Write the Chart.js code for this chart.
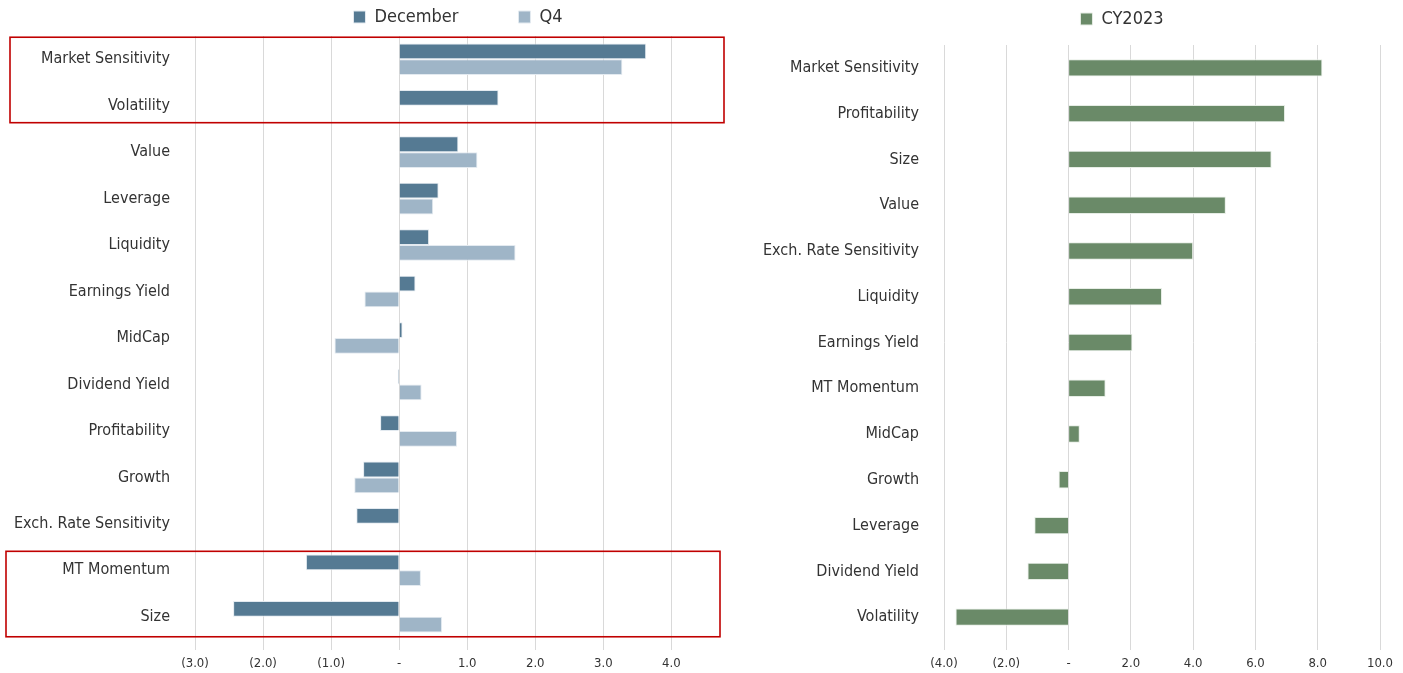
<!DOCTYPE html>
<html>
<head>
<meta charset="utf-8">
<script src="https://cdn.jsdelivr.net/npm/chart.js@4.4.1/dist/chart.umd.min.js"></script>
<style>
  html, body { margin: 0; padding: 0; background: #fff; }
  #leftBox { position: absolute; left: 0; top: 0; width: 730px; height: 673px; }
  #rightBox { position: absolute; left: 740px; top: 0; width: 663px; height: 673px; }
</style>
</head>
<body>
<div id="leftBox"><canvas id="monthChart"></canvas></div>
<div id="rightBox"><canvas id="yearChart"></canvas></div>
<script>
// ---- data: December vs Q4 factor returns ----
const monthFactors = ["Market Sensitivity", "Volatility", "Value", "Leverage", "Liquidity",
  "Earnings Yield", "MidCap", "Dividend Yield", "Profitability", "Growth",
  "Exch. Rate Sensitivity", "MT Momentum", "Size"];
const decemberValues = [3.63, 1.46, 0.87, 0.58, 0.44, 0.24, 0.05, -0.02, -0.28, -0.53, -0.63, -1.37, -2.44];
const q4Values = [3.28, 0.01, 1.15, 0.50, 1.71, -0.51, -0.95, 0.33, 0.85, -0.66, -0.01, 0.32, 0.63];
const monthTicks = [-3, -2, -1, 0, 1, 2, 3, 4];
const highlighted = [["Market Sensitivity", "Volatility"], ["MT Momentum", "Size"]];

// ---- data: calendar year 2023 ----
const yearFactors = ["Market Sensitivity", "Profitability", "Size", "Value", "Exch. Rate Sensitivity",
  "Liquidity", "Earnings Yield", "MT Momentum", "MidCap", "Growth", "Leverage",
  "Dividend Yield", "Volatility"];
const cy2023Values = [8.15, 6.95, 6.52, 5.05, 4.0, 3.0, 2.05, 1.19, 0.36, -0.32, -1.1, -1.32, -3.63];
const yearTicks = [-4, -2, 0, 2, 4, 6, 8, 10];

const FONT = "'Liberation Sans Narrow', 'DejaVu Sans Condensed', 'Roboto', sans-serif";
const TEXT = "#333333";
const GRID = "#d9d9d9";

function fmt(v) {
  if (v === 0) return "-";
  if (v < 0) return "(" + Math.abs(v).toFixed(1) + ")";
  return v.toFixed(1);
}

// move the legend so it is centred on a given x instead of the canvas
const legendCenter = {
  id: "legendCenter",
  afterLayout(chart, args, opts) {
    const lg = chart.legend;
    if (!lg || opts.x == null) return;
    const half = (lg.right - lg.left) / 2;
    lg.left = opts.x - half;
    lg.right = opts.x + half;
    const dy = opts.dy || 0;
    lg.top += dy;
    lg.bottom += dy;
  }
};

// red boxes round the highlighted rows
const rowBoxes = {
  id: "rowBoxes",
  afterDraw(chart, args, opts) {
    if (!opts.groups) return;
    const y = chart.scales.y;
    const ctx = chart.ctx;
    ctx.save();
    ctx.strokeStyle = opts.color;
    ctx.lineWidth = opts.width;
    opts.groups.forEach(g => {
      const a = y.getPixelForValue(chart.data.labels.indexOf(g.rows[0]));
      const b = y.getPixelForValue(chart.data.labels.indexOf(g.rows[g.rows.length - 1]));
      ctx.strokeRect(g.left, a - g.above, g.right - g.left, b - a + g.above + g.below);
    });
    ctx.restore();
  }
};

function xScale(min, max, ticks) {
  return {
    min: min,
    max: max,
    afterBuildTicks: s => { s.ticks = ticks.map(v => ({ value: v })); },
    afterFit: s => { s.height = 33; },
    grid: { color: GRID, lineWidth: 1, drawTicks: true, tickLength: 10 },
    border: { display: false },
    ticks: { color: TEXT, font: { family: FONT, size: 13 }, padding: 6, autoSkip: false,
      maxRotation: 0, callback: v => fmt(v) }
  };
}

function yScale(width) {
  return {
    grid: { display: false },
    border: { display: false },
    ticks: { color: TEXT, font: { family: FONT, size: 16 }, padding: 17, autoSkip: false },
    afterFit: s => { s.width = width; }
  };
}

new Chart(document.getElementById("monthChart"), {
  type: "bar",
  data: {
    labels: monthFactors,
    datasets: [
      { label: "December", data: decemberValues, backgroundColor: "#557a93",
        borderColor: "#e3eaf0", borderWidth: 1, categoryPercentage: 0.68, barPercentage: 1.0 },
      { label: "Q4", data: q4Values, backgroundColor: "#9fb5c7",
        borderColor: "#e3eaf0", borderWidth: 1, categoryPercentage: 0.68, barPercentage: 1.0 }
    ]
  },
  options: {
    indexAxis: "y",
    responsive: true,
    maintainAspectRatio: false,
    animation: false,
    layout: { padding: { left: 0, right: 11, top: -52, bottom: 0 } },
    scales: { x: xScale(-3, 4.7, monthTicks), y: yScale(195) },
    plugins: {
      legend: {
        position: "top",
        labels: { color: TEXT, font: { family: FONT, size: 18 }, boxWidth: 12, boxHeight: 12, padding: 60 }
      },
      tooltip: { enabled: false },
      legendCenter: { x: 458 },
      rowBoxes: {
        color: "#c00000",
        width: 1.6,
        groups: [
          { rows: highlighted[0], left: 10, right: 724, above: 22, below: 17 },
          { rows: highlighted[1], left: 6, right: 720, above: 19, below: 20 }
        ]
      }
    }
  },
  plugins: [legendCenter, rowBoxes]
});

new Chart(document.getElementById("yearChart"), {
  type: "bar",
  data: {
    labels: yearFactors,
    datasets: [
      { label: "CY2023", data: cy2023Values, backgroundColor: "#6a8a68",
        borderColor: "#e6ede5", borderWidth: 1, categoryPercentage: 1.0, barPercentage: 0.38 }
    ]
  },
  options: {
    indexAxis: "y",
    responsive: true,
    maintainAspectRatio: false,
    animation: false,
    layout: { padding: { left: 0, right: 23, top: 9, bottom: 0 } },
    scales: { x: xScale(-4, 10, yearTicks), y: yScale(204) },
    plugins: {
      legend: {
        position: "top",
        labels: { color: TEXT, font: { family: FONT, size: 18 }, boxWidth: 12, boxHeight: 12, padding: 8 }
      },
      tooltip: { enabled: false },
      legendCenter: { x: 382, dy: -7 }
    }
  },
  plugins: [legendCenter]
});
</script>
</body>
</html>
